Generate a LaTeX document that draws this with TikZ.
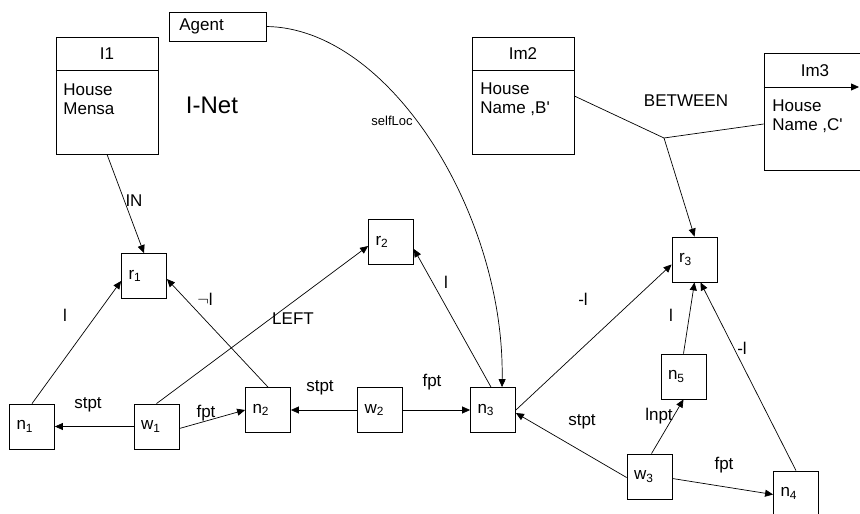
\documentclass[tikz,border=0pt]{standalone}
\usepackage{fontspec}
\setmainfont{Liberation Sans}
\usetikzlibrary{arrows.meta,calc}
\begin{document}
\begin{tikzpicture}[x=1pt,y=-1pt,
  line width=0.8pt,
  every node/.style={font=\fontsize{17}{19.5}\selectfont},
  box/.style={draw, text width=31pt, inner xsep=7pt, inner ysep=0pt,
              minimum height=45pt, align=left},
  classbox/.style={draw, minimum width=102pt, minimum height=117pt, inner sep=0pt},
  lbl/.style={inner sep=1pt},
  arr/.style={-{Triangle[length=8pt,width=7pt]}},
  ln/.style={line width=0.7pt}]
\useasboundingbox (0,0) rectangle (860,514);

% --- class boxes ---
\node[classbox] (I1) at (107,95.5) {};
\draw (I1.west |- 0,70) -- (I1.east |- 0,70);
\node (I1t) at (107,54) {I1};
\node[anchor=west, inner sep=0pt, align=left] (I1b) at (63,99) {House\\Mensa};

\node[classbox] (Im2) at (523,95.5) {};
\draw (Im2.west |- 0,70) -- (Im2.east |- 0,70);
\node (Im2t) at (523,54) {Im2};
\node[anchor=west, inner sep=0pt, align=left] (Im2b) at (480,99) {House\\Name ,B\textquotesingle};

\node[classbox] (Im3) at (815,112) {};
\draw[arr] (Im3.west |- 0,87) -- (859,87);
\node (Im3t) at (815,71) {Im3};
\node[anchor=west, inner sep=0pt, align=left] (Im3b) at (772,116) {House\\Name ,C\textquotesingle};

\node[draw, minimum width=97pt, minimum height=29pt, inner sep=0pt] (agent) at (217.5,26.5) {};
\node[anchor=west, inner sep=0pt] (agentt) at (179,26.5) {Agent};

\node[font=\fontsize{24}{27}\selectfont] (inet) at (212,105) {I-Net};
\node (betw) at (686,101) {BETWEEN};

% --- small nodes ---
\node[box] (r1) at (144,276) {r\textsubscript{1}};
\node[box] (r2) at (391,242) {r\textsubscript{2}};
\node[box] (r3) at (694.5,259.5) {r\textsubscript{3}};
\node[box] (n1) at (32,426.5) {n\textsubscript{1}};
\node[box] (w1) at (156.5,426.5) {w\textsubscript{1}};
\node[box] (n2) at (268,410) {n\textsubscript{2}};
\node[box] (w2) at (380,410) {w\textsubscript{2}};
\node[box] (n3) at (493,410) {n\textsubscript{3}};
\node[box] (n5) at (683.5,376.5) {n\textsubscript{5}};
\node[box] (w3) at (649.5,476.5) {w\textsubscript{3}};
\node[box] (n4) at (796,493.5) {n\textsubscript{4}};

% --- connectors ---
\coordinate (jn) at (664,138);
\draw[ln] ($(Im2.east)+(0,0.5)$) -- (jn);
\draw[ln] ($(Im3.west)+(0,12)$) -- (jn);
\draw[ln,arr] (jn) -- (r3.north);

\draw[ln,arr] (I1.south) -- (r1.north);
\draw[ln,arr] (n1.north) -- ($(r1.west)+(0,5)$);
\draw[ln,arr] (n2.north) -- ($(r1.east)+(0,3)$);
\draw[ln,arr] (w1.north) -- ($(r2.west)+(0,4)$);
\draw[ln,arr] (w1.west) -- (n1.east);
\draw[ln,arr] ($(w1.east)+(0,2)$) -- (n2.west);
\draw[ln,arr] (w2.west) -- (n2.east);
\draw[ln,arr] (w2.east) -- (n3.west);
\draw[ln,arr] ($(n3.north)+(-2,0)$) -- ($(r2.east)+(0,7)$);
\draw[ln,arr] (agent.east) .. controls (390,28) and (505,215) .. ($(n3.north)+(9,0)$);
\draw[ln,arr] (n3.east) -- ($(r3.west)+(0,5)$);
\draw[ln,arr] ($(w3.west)+(0,1)$) -- ($(n3.east)+(0,3)$);
\draw[ln,arr] (n5.north) -- (r3.south);
\draw[ln,arr] ($(w3.north)+(2,0)$) -- (n5.south);
\draw[ln,arr] ($(w3.east)+(0,2)$) -- ($(n4.west)+(0,1)$);
\draw[ln,arr] (n4.north) -- ($(r3.south)+(6,0)$);

% --- connector labels ---
\node[lbl] (lIN) at (134,201) {IN};
\node[lbl] (l1) at (65,315) {l};
\node[lbl] (l2) at (205,299) {$\neg$l};
\node[lbl] (lLEFT) at (293,319) {LEFT};
\node[lbl] (lst1) at (88,405) {stpt};
\node[lbl] (lfp1) at (206,413) {fpt};
\node[lbl] (lst2) at (320,388) {stpt};
\node[lbl] (lfp2) at (432,382) {fpt};
\node[lbl] (l3) at (446,282) {l};
\node[lbl, font=\fontsize{13}{15}\selectfont] (lself) at (392,121) {selfLoc};
\node[lbl] (l4) at (583,299) {-l};
\node[lbl] (lst3) at (582,422) {stpt};
\node[lbl] (l5) at (671,315) {l};
\node[lbl] (l6) at (742,348) {-l};
\node[lbl] (linp) at (659,416) {lnpt};
\node[lbl] (lfp3) at (724,465) {fpt};
\end{tikzpicture}
\end{document}
